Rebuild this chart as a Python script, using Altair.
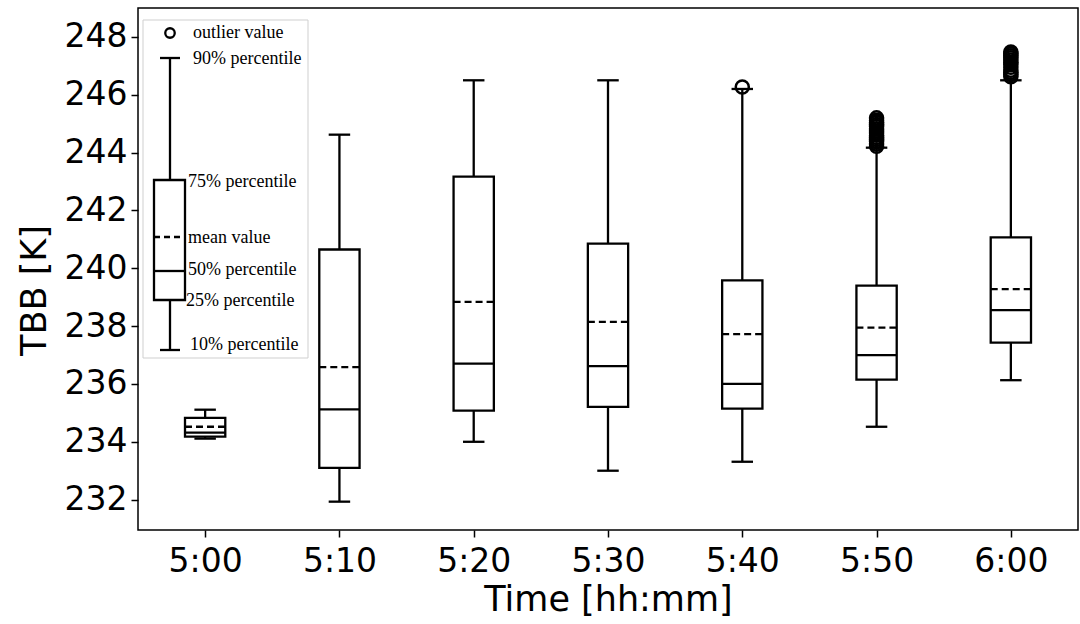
import json
import altair as alt
import pandas as pd

# Brightness temperature statistics per time step
times = ["5:00", "5:10", "5:20", "5:30", "5:40", "5:50", "6:00"]
p10 = [234.11, 231.93, 234.00, 233.00, 233.31, 234.52, 236.13]
p25 = [234.18, 233.10, 235.08, 235.21, 235.15, 236.15, 237.43]
p50 = [234.32, 235.12, 236.70, 236.62, 236.00, 237.00, 238.55]
means = [234.52, 236.58, 238.84, 238.15, 237.72, 237.95, 239.28]
p75 = [234.83, 240.65, 243.17, 240.85, 239.58, 239.40, 241.07]
p90 = [235.11, 244.62, 246.50, 246.50, 246.20, 244.17, 246.50]

# Outliers above the 90% percentile
outlier_times = (["5:40"]
                 + ["5:50"] * 14
                 + ["6:00"] * 12)
outlier_values = ([246.27]
                  + [244.22, 244.30, 244.38, 244.45, 244.52, 244.60, 244.68,
                     244.75, 244.82, 244.90, 244.97, 245.05, 245.12, 245.20]
                  + [246.62, 246.70, 246.78, 246.85, 246.95, 247.05, 247.12,
                     247.20, 247.28, 247.35, 247.42, 247.48])

y_ticks = [232, 234, 236, 238, 240, 242, 244, 246, 248]

stats = pd.DataFrame({
    "time": times, "p10": p10, "p25": p25, "p50": p50,
    "mean": means, "p75": p75, "p90": p90,
})
stats["pos"] = range(1, len(times) + 1)
outliers = pd.DataFrame({"time": outlier_times, "value": outlier_values})
outliers["pos"] = outliers["time"].map({t: i + 1 for i, t in enumerate(times)})

label_expr = json.dumps(times) + "[datum.value - 1]"

x_scale = alt.Scale(domain=[0.5, len(times) + 0.5], nice=False, zero=False)
y_scale = alt.Scale(domain=[230.95, 249.0], nice=False, zero=False)

x_axis = alt.Axis(values=list(range(1, len(times) + 1)), labelExpr=label_expr,
                  title="Time [hh:mm]", titleFontSize=35, labelFontSize=33,
                  labelPadding=8, titlePadding=4, titleFontWeight="normal")
y_axis = alt.Axis(values=y_ticks, title="TBB [K]", titleFontSize=35,
                  labelFontSize=33, labelPadding=4, titleFontWeight="normal",
                  titleX=-86, titleY=282)

LW = 2.3

base = alt.Chart(stats).transform_calculate(
    box_l="datum.pos - 0.15", box_r="datum.pos + 0.15",
    cap_l="datum.pos - 0.08", cap_r="datum.pos + 0.08",
)

X = alt.X("pos:Q", scale=x_scale, axis=x_axis)
Y_kw = dict(scale=y_scale, axis=y_axis)

lower_whisker = base.mark_rule(color="black", strokeWidth=LW).encode(
    x=X, y=alt.Y("p10:Q", **Y_kw), y2="p25:Q")
upper_whisker = base.mark_rule(color="black", strokeWidth=LW).encode(
    x=X, y=alt.Y("p75:Q", **Y_kw), y2="p90:Q")
lower_cap = base.mark_rule(color="black", strokeWidth=LW).encode(
    x=alt.X("cap_l:Q", scale=x_scale, axis=x_axis), x2="cap_r:Q",
    y=alt.Y("p10:Q", **Y_kw))
upper_cap = base.mark_rule(color="black", strokeWidth=LW).encode(
    x=alt.X("cap_l:Q", scale=x_scale, axis=x_axis), x2="cap_r:Q",
    y=alt.Y("p90:Q", **Y_kw))
box = base.mark_rect(fill="white", stroke="black", strokeWidth=LW).encode(
    x=alt.X("box_l:Q", scale=x_scale, axis=x_axis), x2="box_r:Q",
    y=alt.Y("p25:Q", **Y_kw), y2="p75:Q")
median = base.mark_rule(color="black", strokeWidth=LW).encode(
    x=alt.X("box_l:Q", scale=x_scale, axis=x_axis), x2="box_r:Q",
    y=alt.Y("p50:Q", **Y_kw))
mean_line = base.mark_rule(color="black", strokeWidth=LW, strokeDash=[7, 4]).encode(
    x=alt.X("box_l:Q", scale=x_scale, axis=x_axis), x2="box_r:Q",
    y=alt.Y("mean:Q", **Y_kw))
fliers = alt.Chart(outliers).mark_point(
    shape="circle", filled=False, color="black", size=170, strokeWidth=2.5, opacity=1
).encode(x=alt.X("pos:Q", scale=x_scale, axis=x_axis),
         y=alt.Y("value:Q", **Y_kw))

# Schematic key drawn in the upper-left corner of the plot
key_src = alt.Chart(pd.DataFrame({"k": [0]}))
serif = dict(font="Liberation Serif", fontSize=18, align="left",
             baseline="middle", color="black")
key = [
    key_src.mark_rect(fill="white", stroke="#cfcfcf", strokeWidth=1).encode(
        x=alt.value(5), x2=alt.value(170), y=alt.value(12), y2=alt.value(350)),
    key_src.mark_point(shape="circle", filled=False, color="black", size=90,
                       strokeWidth=2.3, opacity=1).encode(
        x=alt.value(32), y=alt.value(25)),
    key_src.mark_rule(color="black", strokeWidth=LW).encode(
        x=alt.value(22), x2=alt.value(42), y=alt.value(50)),
    key_src.mark_rule(color="black", strokeWidth=LW).encode(
        x=alt.value(32), y=alt.value(50), y2=alt.value(172)),
    key_src.mark_rule(color="black", strokeWidth=LW).encode(
        x=alt.value(32), y=alt.value(292), y2=alt.value(342)),
    key_src.mark_rule(color="black", strokeWidth=LW).encode(
        x=alt.value(22), x2=alt.value(42), y=alt.value(342)),
    key_src.mark_rect(fill="white", stroke="black", strokeWidth=LW).encode(
        x=alt.value(16), x2=alt.value(47), y=alt.value(172), y2=alt.value(292)),
    key_src.mark_rule(color="black", strokeWidth=LW, strokeDash=[6, 4]).encode(
        x=alt.value(16), x2=alt.value(47), y=alt.value(229)),
    key_src.mark_rule(color="black", strokeWidth=LW).encode(
        x=alt.value(16), x2=alt.value(47), y=alt.value(263)),
    key_src.mark_text(text="outlier value", **serif).encode(
        x=alt.value(55), y=alt.value(25)),
    key_src.mark_text(text="90% percentile", **serif).encode(
        x=alt.value(55), y=alt.value(51)),
    key_src.mark_text(text="75% percentile", **serif).encode(
        x=alt.value(50), y=alt.value(174)),
    key_src.mark_text(text="mean value", **serif).encode(
        x=alt.value(50), y=alt.value(230)),
    key_src.mark_text(text="50% percentile", **serif).encode(
        x=alt.value(50), y=alt.value(262)),
    key_src.mark_text(text="25% percentile", **serif).encode(
        x=alt.value(48), y=alt.value(293)),
    key_src.mark_text(text="10% percentile", **serif).encode(
        x=alt.value(52), y=alt.value(337)),
]

chart = alt.layer(
    lower_whisker, upper_whisker, lower_cap, upper_cap,
    box, median, mean_line, fliers, *key
).properties(
    width=940, height=522,
    autosize=alt.AutoSizeParams(type="none"),
    padding={"left": 138, "top": 8, "right": 2, "bottom": 94},
    background="white",
).configure_view(
    stroke="black", strokeWidth=1.5
).configure_axis(
    grid=False, domain=False, tickColor="black", tickWidth=1.5, tickSize=7,
    labelColor="black", titleColor="black",
    labelFont="DejaVu Sans", titleFont="DejaVu Sans",
)

chart.save("out.html", embed_options={"renderer": "svg", "actions": False})
